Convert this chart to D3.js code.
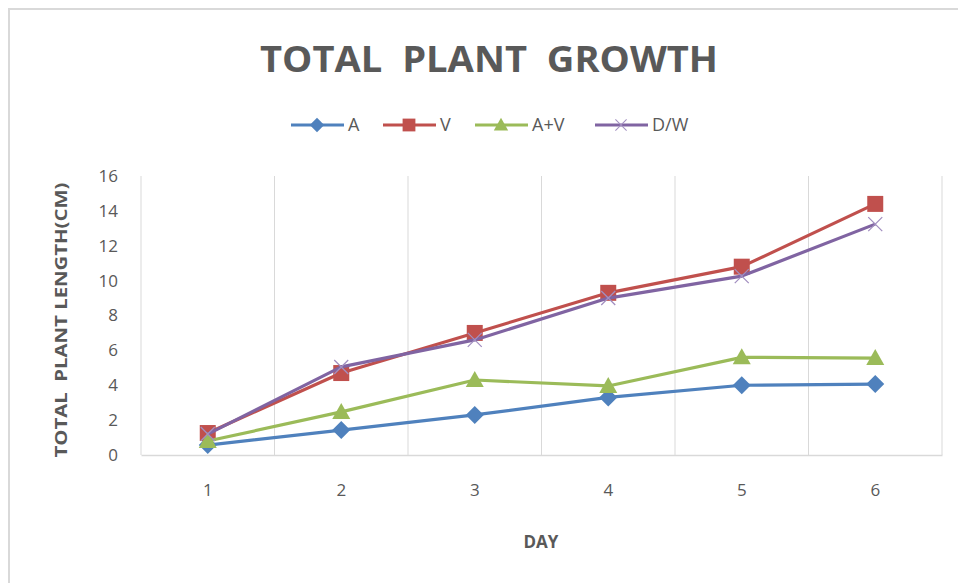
<!DOCTYPE html>
<html lang="en">
<head>
    <meta charset="UTF-8">
    <title>Total Plant Growth</title>
    <style>
        body { margin: 0; background: white; }
        svg text { font-family: "Open Sans", "DejaVu Sans", sans-serif; fill: #595959; }
    </style>
</head>
<body>
    <div id="chart"></div>
    <script src="https://cdn.jsdelivr.net/npm/d3@7"></script>
    <script>
        const days = ["1", "2", "3", "4", "5", "6"];
        const seriesNames = ["A", "V", "A+V", "D/W"];
        const valuesA = [0.57, 1.43, 2.3, 3.3, 4.0, 4.07];
        const valuesV = [1.26, 4.7, 7.0, 9.3, 10.8, 14.4];
        const valuesAV = [0.8, 2.47, 4.3, 3.96, 5.6, 5.56];
        const valuesDW = [1.2, 5.05, 6.6, 9.0, 10.26, 13.24];
        const yTicks = [0, 2, 4, 6, 8, 10, 12, 14, 16];

        (() => {
            const width = 958;
            const height = 583;
            const plot = { left: 141, right: 942, top: 176, bottom: 455 };

            const series = [
                { name: seriesNames[0], values: valuesA, color: "#4f81bd", marker: "diamond" },
                { name: seriesNames[1], values: valuesV, color: "#c0504d", marker: "square" },
                { name: seriesNames[2], values: valuesAV, color: "#9bbb59", marker: "triangle" },
                { name: seriesNames[3], values: valuesDW, color: "#8064a2", marker: "cross" }
            ];

            const svg = d3.select("#chart").append("svg")
                .attr("width", width)
                .attr("height", height);

            // chart frame (only top and left edges show)
            svg.append("path")
                .attr("d", `M9,${height} V9 H${width}`)
                .attr("fill", "none")
                .attr("stroke", "#d9d9d9")
                .attr("stroke-width", 2);

            const x = d3.scaleBand()
                .domain(days)
                .range([plot.left, plot.right]);

            const y = d3.scaleLinear()
                .domain([0, 16])
                .range([plot.bottom, plot.top]);

            // vertical gridlines on category boundaries
            svg.append("g")
                .selectAll("line")
                .data(days.concat(["end"]))
                .join("line")
                .attr("x1", (d, i) => i < days.length ? x(d) : plot.right)
                .attr("x2", (d, i) => i < days.length ? x(d) : plot.right)
                .attr("y1", plot.top)
                .attr("y2", plot.bottom)
                .attr("stroke", "#d9d9d9")
                .attr("stroke-width", 1);

            const xAxis = svg.append("g")
                .attr("transform", `translate(0,${plot.bottom})`)
                .call(d3.axisBottom(x).tickSize(0).tickPadding(29));
            xAxis.select(".domain").attr("stroke", "#d9d9d9").attr("stroke-width", 1.5);
            xAxis.selectAll("text")
                .attr("font-size", 17)
                .attr("fill", "#595959")
                .style("font-family", "'Open Sans', sans-serif");

            const yAxis = svg.append("g")
                .attr("transform", `translate(${plot.left},0)`)
                .call(d3.axisLeft(y).tickValues(yTicks).tickSize(0).tickPadding(23));
            yAxis.select(".domain").remove();
            yAxis.selectAll("text")
                .attr("font-size", 17)
                .attr("fill", "#595959")
                .style("font-family", "'Open Sans', sans-serif");

            const line = d3.line()
                .x((d, i) => x(days[i]) + x.bandwidth() / 2)
                .y(d => y(d));

            function drawMarker(g, type, color) {
                let d;
                if (type === "diamond") d = "M0,-9L9,0L0,9L-9,0Z";
                else if (type === "square") d = "M-8,-8H8V8H-8Z";
                else if (type === "triangle") d = "M0,-9L9,7H-9Z";
                if (type === "cross") {
                    g.append("path")
                        .attr("d", "M-7,-7L7,7M-7,7L7,-7")
                        .attr("stroke", "#a28fc0")
                        .attr("stroke-width", 1.3)
                        .attr("fill", "none");
                } else {
                    g.append("path").attr("d", d).attr("fill", color);
                }
            }

            series.forEach(s => {
                const g = svg.append("g");
                g.append("path")
                    .datum(s.values)
                    .attr("d", line)
                    .attr("fill", "none")
                    .attr("stroke", s.color)
                    .attr("stroke-width", 3.2)
                    .attr("stroke-linejoin", "round");
                g.selectAll("g.pt")
                    .data(s.values)
                    .join("g")
                    .attr("class", "pt")
                    .attr("transform", (d, i) => `translate(${x(days[i]) + x.bandwidth() / 2},${y(d)})`)
                    .each(function () { drawMarker(d3.select(this), s.marker, s.color); });
            });

            // title
            svg.append("text")
                .attr("x", 489)
                .attr("y", 72)
                .attr("text-anchor", "middle")
                .attr("font-size", 36)
                .attr("font-weight", 700)
                .attr("textLength", 458)
                .attr("lengthAdjust", "spacingAndGlyphs")
                .style("white-space", "pre")
                .attr("fill", "#595959")
                .text("TOTAL  PLANT  GROWTH");

            // legend
            const legendX = [291, 383, 475, 595];
            const legend = svg.append("g");
            series.forEach((s, i) => {
                const lg = legend.append("g").attr("transform", `translate(${legendX[i]},125)`);
                lg.append("line")
                    .attr("x1", 0).attr("x2", 53)
                    .attr("stroke", s.color)
                    .attr("stroke-width", 3.2);
                const m = lg.append("g").attr("transform", "translate(26,0) scale(0.8)");
                drawMarker(m, s.marker, s.color);
                lg.append("text")
                    .attr("x", 57)
                    .attr("y", 6)
                    .attr("font-size", 18)
                    .attr("fill", "#595959")
                    .text(s.name);
            });

            // axis titles
            svg.append("text")
                .attr("x", 541)
                .attr("y", 548)
                .attr("text-anchor", "middle")
                .attr("font-size", 17)
                .attr("font-weight", 700)
                .attr("fill", "#595959")
                .text("DAY");

            svg.append("text")
                .attr("transform", "translate(67,320) rotate(-90)")
                .attr("text-anchor", "middle")
                .attr("font-size", 16)
                .attr("font-weight", 700)
                .attr("textLength", 275)
                .attr("lengthAdjust", "spacingAndGlyphs")
                .style("white-space", "pre")
                .attr("fill", "#595959")
                .text("TOTAL  PLANT LENGTH(CM)");
        })()
    </script>
</body>
</html>
